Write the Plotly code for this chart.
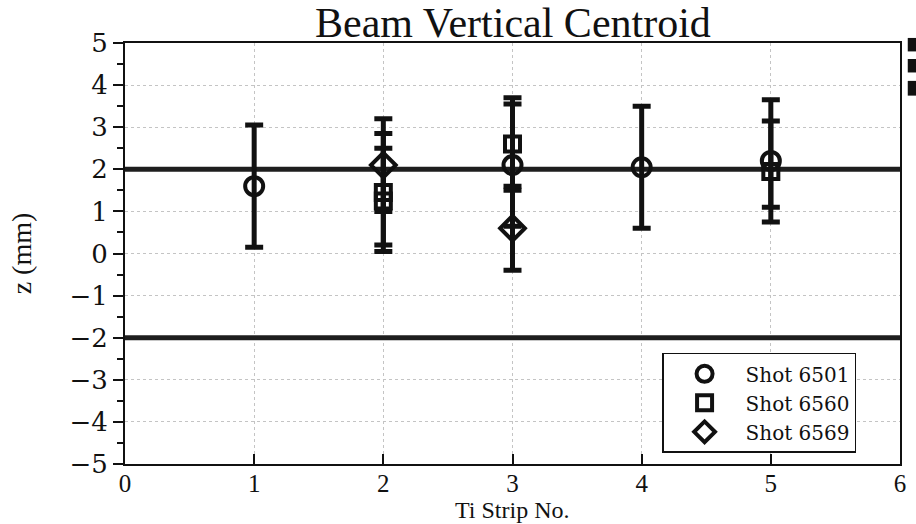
import plotly.graph_objects as go

# Centroid measurements per shot: strip number, z (mm), upper / lower error (mm)
strip_6501 = [1, 3, 4, 5]
z_6501 = [1.6, 2.1, 2.05, 2.2]
err_up_6501 = [1.45, 1.45, 1.45, 1.45]
err_dn_6501 = [1.45, 1.45, 1.45, 1.45]

strip_6560 = [2, 2, 3, 5]
z_6560 = [1.45, 1.25, 2.6, 1.95]
err_up_6560 = [1.4, 1.25, 1.1, 1.2]
err_dn_6560 = [1.4, 1.05, 1.1, 0.85]

strip_6569 = [2, 3]
z_6569 = [2.1, 0.6]
err_up_6569 = [1.1, 1.0]
err_dn_6569 = [1.1, 1.0]

# Beam envelope limits (mm)
limits = [2, -2]

x_ticks = [0, 1, 2, 3, 4, 5, 6]
y_ticks = [-5, -4, -3, -2, -1, 0, 1, 2, 3, 4, 5]

SERIF = "Liberation Serif, Times New Roman, serif"
WIDE_SERIF = "DejaVu Serif, Liberation Serif, serif"
INK = "#111111"

fig = go.Figure()

series = [
    ("Shot 6501", strip_6501, z_6501, err_up_6501, err_dn_6501, "circle-open", 18),
    ("Shot 6560", strip_6560, z_6560, err_up_6560, err_dn_6560, "square-open", 15),
    ("Shot 6569", strip_6569, z_6569, err_up_6569, err_dn_6569, "diamond-open", 19),
]
for name, xs, ys, up, dn, sym, size in series:
    fig.add_trace(go.Scatter(
        x=xs, y=ys, name=name, mode="markers",
        marker=dict(symbol=sym, size=size, color=INK, line=dict(width=4, color=INK)),
        error_y=dict(type="data", symmetric=False, array=up, arrayminus=dn,
                     color=INK, thickness=5, width=9),
    ))

for lim in limits:
    fig.add_shape(type="line", xref="x", yref="y", x0=0, x1=6, y0=lim, y1=lim,
                  line=dict(color="#1e1e1e", width=5), layer="between")

# small dark marks along the right edge
for y0, y1 in ((0.98, 1.012), (0.93, 0.962), (0.875, 0.91)):
    fig.add_shape(type="rect", xref="paper", yref="paper",
                  x0=1.01, x1=1.03, y0=y0, y1=y1,
                  fillcolor="#111111", line=dict(width=0))

# x-axis title placed below the tick labels
fig.add_annotation(text="Ti Strip No.", xref="paper", yref="paper",
                   x=0.5, y=-0.143, xanchor="center", yanchor="bottom",
                   showarrow=False, borderpad=0,
                   font=dict(size=24, family=SERIF, color=INK))

fig.update_layout(
    width=916, height=524,
    margin=dict(l=125, r=16, t=43, b=60),
    paper_bgcolor="white", plot_bgcolor="white",
    font=dict(family=SERIF, color=INK),
    title=dict(text="Beam Vertical Centroid", x=0.56, xanchor="center",
               y=0.958, yanchor="middle", font=dict(size=42, family=SERIF, color=INK)),
    showlegend=True,
    legend=dict(x=0.693, y=0.264, xanchor="left", yanchor="top",
                bgcolor="white", bordercolor=INK, borderwidth=1.5,
                font=dict(size=20, family=WIDE_SERIF, color=INK),
                tracegroupgap=0, itemwidth=72),
)

fig.update_xaxes(
    range=[0, 6], tickvals=x_ticks, ticktext=[str(v) for v in x_ticks],
    showline=True, linecolor=INK, linewidth=2, mirror=True,
    ticks="inside", ticklen=10, tickwidth=1.5, tickcolor=INK,
    ticklabelstandoff=-4,
    showgrid=True, gridcolor="#c4c4c4", griddash="dot", gridwidth=1,
    zeroline=False, automargin=False,
    tickfont=dict(size=25, family=SERIF, color=INK),
)
fig.update_yaxes(
    range=[-5, 5], tickvals=y_ticks,
    showline=True, linecolor=INK, linewidth=2, mirror=True,
    ticks="outside", ticklen=10, tickwidth=1.5, tickcolor=INK,
    minor=dict(dtick=0.5, tick0=0, ticks="outside", ticklen=6, tickcolor=INK, showgrid=False),
    showgrid=True, gridcolor="#c4c4c4", griddash="dot", gridwidth=1,
    zeroline=False, automargin=False,
    tickfont=dict(size=26, family=WIDE_SERIF, color=INK),
    title=dict(text="z (mm)", font=dict(size=28, family=SERIF, color=INK), standoff=30),
)

fig.write_html("out.html")
